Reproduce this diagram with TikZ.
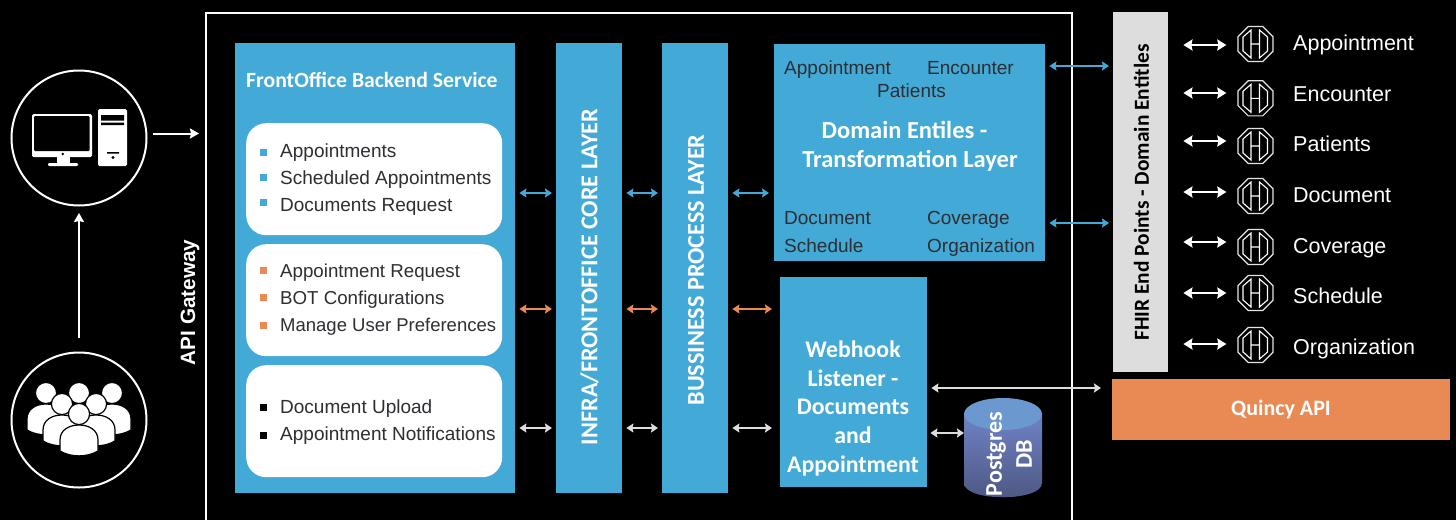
\documentclass[tikz,border=0pt]{standalone}
\usepackage{fontspec}
\setmainfont{Liberation Sans}
\newfontfamily\carl{Carlito}
\usetikzlibrary{arrows.meta,calc,shapes.geometric}
\definecolor{cblue}{HTML}{43A9D6}
\definecolor{corange}{HTML}{E98A54}
\definecolor{cgray}{HTML}{DDDDDD}
\definecolor{ctext}{HTML}{2E2E33}
\definecolor{dbtop}{HTML}{6B98CF}
\definecolor{dbup}{HTML}{7083C6}
\definecolor{dblow}{HTML}{4C5680}
\tikzset{
  x=1pt,y=-1pt,
  block/.style={fill=cblue,draw=none,inner sep=0,anchor=north west},
  card/.style={fill=white,draw=none,rounded corners=20pt,inner sep=0,anchor=north west},
  item/.style={anchor=base west,inner sep=0,font=\fontsize{19}{20}\selectfont,text=ctext},
  res/.style={anchor=base west,inner sep=0,font=\fontsize{21.5}{24}\selectfont,text=white},
  head/.style={font=\carl\bfseries\fontsize{21.7}{29}\selectfont,text=white,inner sep=0,align=center},
  vhead/.style={head,rotate=90,font=\carl\bfseries\fontsize{24.2}{29}\selectfont},
  bul/.style={minimum size=7pt,inner sep=0,draw=none},
  link/.style={<->,>={Stealth[length=7pt,width=9pt,inset=1pt]},line width=1.6pt},
  bluel/.style={link,draw=cblue},
  orangel/.style={link,draw=corange},
  grayl/.style={link,draw=cgray},
  whitel/.style={link,draw=white,line width=2pt,>={Stealth[length=9pt,width=11pt,inset=1pt]}},
  one/.style={->,>={Stealth[length=9pt,width=10pt,inset=1pt]},line width=2pt,draw=white},
  ring/.style={circle,draw=white,line width=2pt,minimum size=135pt,inner sep=0},
  octo/.style={regular polygon,regular polygon sides=8,draw=white!90!black,line width=1.2pt,minimum size=38pt,inner sep=0},
}
\newcommand{\hicon}[2]{% name, y
  \node[octo] (#1) at (1255.5,#2) {};
  \draw[white,line width=1.1pt] (1251,#2-14) -- (1243,#2-7) -- (1243,#2+7) -- (1251,#2+14) -- cycle
     (1259.5,#2-14) -- (1267.5,#2-7) -- (1267.5,#2+7) -- (1259.5,#2+14) -- cycle
     (1251,#2) -- (1259.5,#2);
}
\newcommand{\rowres}[3]{% n, icon y, arrow y
  \hicon{i#1}{#2}
  \coordinate (a#1) at (1255,#3);
  \draw[whitel,shorten <=15pt,shorten >=11pt] (fhir.east |- a#1) -- (i#1.west |- a#1);
}
\newcommand{\person}[2]{% x, y of head centre
  \fill[white,draw=black,line width=1.2pt] (#1-19,#2+37) -- (#1-19,#2+26) .. controls (#1-19,#2+16) and (#1-10,#2+11) .. (#1,#2+11)
    .. controls (#1+10,#2+11) and (#1+19,#2+16) .. (#1+19,#2+26) -- (#1+19,#2+37)
    .. controls (#1+8,#2+43.5) and (#1-8,#2+43.5) .. cycle;
  \fill[white,draw=black,line width=1.2pt] (#1,#2) circle (10.6);
}
\begin{document}
\begin{tikzpicture}
\useasboundingbox (0,0) rectangle (1456,520);
\fill[black] (0,0) rectangle (1456,520);
\begin{scope}
\clip (0,0) rectangle (1456,520);
\draw[white,line width=2pt] (206,530) -- (206,12.5) -- (1072,12.5) -- (1072,530);

% client circles
\node[ring] (pc) at (79,138) {};
\node[ring] (users) at (79,420) {};
% computer
\fill[white,rounded corners=1.5pt] (32,114) rectangle (92,157);
\fill[black,rounded corners=1pt] (34.2,116) rectangle (89.5,151);
\fill[black] (62.7,154) circle (1.4);
\fill[white] (57,157) rectangle (70,163);
\fill[white,rounded corners=1.2pt] (48,163) rectangle (78,166);
\fill[white,rounded corners=1.5pt] (98,109) rectangle (127,166);
\fill[black] (101,115) rectangle (124,120.5) (101,122.7) rectangle (124,125) (107,152) rectangle (119,153.5);
\fill[black] (113,157.5) circle (1.7);
% people
\person{46}{393}
\person{112}{393}
\person{79}{393}
\person{62}{404}
\person{96}{404}
\person{79}{414}
\end{scope}

\coordinate (ua) at (79,338);
\coordinate (ub) at (153,133.5);
\coordinate (uc) at (199,133.5);
\draw[one] (ua) -- (pc.south |- 0,213);
\draw[one] (ub) -- (uc);

\node[rotate=90,inner sep=0,text=white,font=\bfseries\fontsize{20.7}{22}\selectfont] (gw) at (190,302.5) {API Gateway};

% main service
\node[block,minimum width=280pt,minimum height=450pt] (fo) at (235,43) {};
\node[head,anchor=west] (fot) at (246,80) {FrontOffice Backend Service};
\node[card,minimum width=256pt,minimum height=112pt] (c1) at (246,123) {};
\node[card,minimum width=256pt,minimum height=112pt] (c2) at (246,244) {};
\node[card,minimum width=256pt,minimum height=112pt] (c3) at (246,365) {};

\foreach \n/\y/\by/\t in {a/157/152/Appointments,b/184/177/Scheduled Appointments,c/211/202/Documents Request}{
  \node[bul,fill=cblue] (b\n) at (263,\by) {};
  \node[item] (t\n) at (280,\y) {\t};
}
\foreach \n/\y/\by/\t in {d/277/270/Appointment Request,e/304/297/BOT Configurations}{
  \node[bul,fill=corange,font=] (b\n) at (263,\by) {};
  \node[item,font=\fontsize{18.7}{20}\selectfont] (t\n) at (280,\y) {\t};
}
\node[bul,fill=corange] (bf) at (263,325) {};
\node[item,font=\fontsize{18.5}{20}\selectfont] (tf) at (280,331) {Manage User Preferences};
\foreach \n/\y/\by/\t in {g/413/407/Document Upload,h/440/435/Appointment Notifications}{
  \node[bul,fill=black] (b\n) at (263,\by) {};
  \node[item] (t\n) at (280,\y) {\t};
}

% layers
\node[block,minimum width=66pt,minimum height=450pt] (core) at (556,43) {};
\node[vhead] (coret) at (589.5,277) {INFRA/FRONTOFFICE CORE LAYER};
\node[block,minimum width=66pt,minimum height=450pt] (bp) at (662,43) {};
\node[vhead] (bpt) at (696,270) {BUSSINESS PROCESS LAYER};

% domain
\node[block,minimum width=271pt,minimum height=217pt] (dm) at (774,44) {};
\node[item] (d1) at (784,74) {Appointment};
\node[item] (d2) at (927,74) {Encounter};
\node[item] (d3) at (877,97) {Patients};
\node[head,font=\carl\bfseries\fontsize{24.5}{29.5}\selectfont] (dt) at (910,146.5) {Domain Entiles -\hspace*{11pt}\\Transformation Layer};
\node[item] (d4) at (784,224) {Document};
\node[item] (d5) at (927,224) {Coverage};
\node[item] (d6) at (784,252) {Schedule};
\node[item] (d7) at (927,252) {Organization};

% webhook
\node[block,minimum width=147pt,minimum height=210pt] (wh) at (780,277) {};
\node[head,font=\carl\bfseries\fontsize{23.8}{28.8}\selectfont] (wt) at (853,408.5) {Webhook\\Listener -\\Documents\\and\\Appointment};

% database
\shade[top color=dbup,bottom color=dblow] (964,413) -- (964,483) .. controls (964,502) and (1042,502) .. (1042,483) -- (1042,413) -- cycle;
\fill[dbtop] (1003,414) ellipse (39 and 16);
\coordinate (dbw) at (964,433);
\node[rotate=90,inner sep=0,align=center,text=white,font=\carl\bfseries\fontsize{24}{30}\selectfont] (dbt) at (1009,454) {Postgres\\DB};

% right column
\node[block,fill=cgray,minimum width=55pt,minimum height=360pt] (fhir) at (1113,12) {};
\node[rotate=90,inner sep=0,text=black,font=\carl\bfseries\fontsize{21.4}{24}\selectfont] (ft) at (1141.5,192.5) {FHIR End Points - Domain Entitles};
\node[block,fill=corange,minimum width=338pt,minimum height=61pt] (qa) at (1112,379) {};
\node[text=white,inner sep=0,font=\carl\bfseries\fontsize{22}{24}\selectfont] (qt) at (1281,410) {Quincy API};

% row connectors
\begin{scope}[shorten <=4pt,shorten >=4pt]
\coordinate (r1) at (0,193);
\coordinate (r2) at (0,309);
\coordinate (r3) at (0,428);
\draw[bluel]   (fo.east |- r1) -- (core.west |- r1);
\draw[bluel]   (core.east |- r1) -- (bp.west |- r1);
\draw[bluel,shorten >=5pt]   (bp.east |- r1) -- (dm.west |- r1);
\draw[orangel] (fo.east |- r2) -- (core.west |- r2);
\draw[orangel] (core.east |- r2) -- (bp.west |- r2);
\draw[orangel,shorten >=8pt] (bp.east |- r2) -- (wh.west |- r2);
\draw[grayl]   (fo.east |- r3) -- (core.west |- r3);
\draw[grayl]   (core.east |- r3) -- (bp.west |- r3);
\draw[grayl,shorten >=8pt]   (bp.east |- r3) -- (wh.west |- r3);
\coordinate (r4) at (0,66);
\coordinate (r5) at (0,223);
\coordinate (r6) at (0,388);
\draw[bluel] (dm.east |- r4) -- (fhir.west |- r4);
\draw[bluel] (dm.east |- r5) -- (fhir.west |- r5);
\draw[grayl,shorten >=11pt] (wh.east |- r6) -- (qa.west |- r6);
\draw[grayl,shorten <=3pt,shorten >=0pt] (wh.east |- dbw) -- (dbw);
\end{scope}

\rowres{1}{44}{45}
\rowres{2}{98.3}{93}
\rowres{3}{146}{141}
\rowres{4}{196}{192}
\rowres{5}{247}{242}
\rowres{6}{293}{293}
\rowres{7}{345}{344}
\node[res] (l1) at (1293,50) {Appointment};
\node[res] (l2) at (1293,101) {Encounter};
\node[res] (l3) at (1293,151) {Patients};
\node[res] (l4) at (1293,202) {Document};
\node[res] (l5) at (1293,253) {Coverage};
\node[res] (l6) at (1293,303) {Schedule};
\node[res] (l7) at (1293,354) {Organization};
\end{tikzpicture}
\end{document}
